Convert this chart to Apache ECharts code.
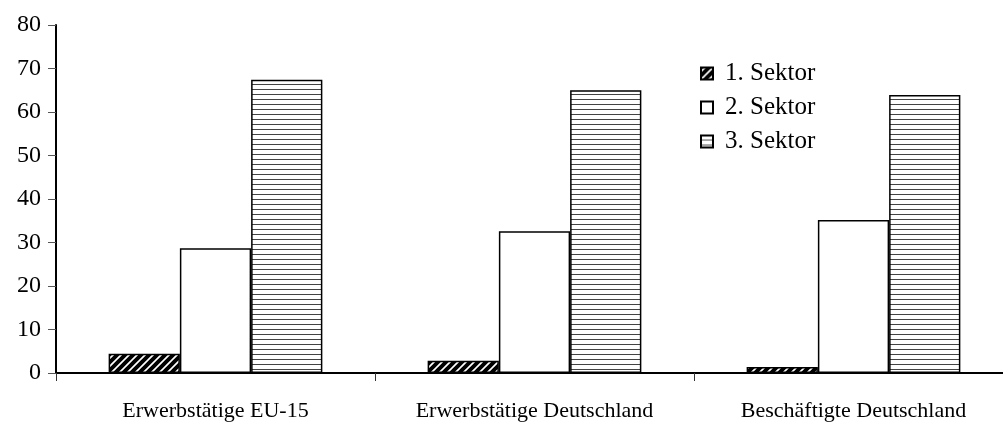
<!DOCTYPE html>
<html>
<head>
<meta charset="utf-8">
<script src="https://cdn.jsdelivr.net/npm/echarts@6/dist/echarts.min.js"></script>
<style>
    html, body { margin: 0; padding: 0; background: #fff; overflow: hidden; }
    #chart { width: 1013px; height: 424px; }
</style>
</head>
<body>
<div id="chart"></div>
<script>
// Data
var categories = ['Erwerbstätige EU-15', 'Erwerbstätige Deutschland', 'Beschäftigte Deutschland'];
var seriesNames = ['1. Sektor', '2. Sektor', '3. Sektor'];
var sektor1 = [4.4, 2.8, 1.4];
var sektor2 = [28.7, 32.6, 35.2];
var sektor3 = [67.4, 65.0, 63.9];
var yTicks = [0, 80, 10]; // min, max, interval

// Fill patterns
var makeDiagonal = function () {
    var c = document.createElement('canvas');
    c.width = 8; c.height = 8;
    var ctx = c.getContext('2d');
    ctx.fillStyle = '#fff';
    ctx.fillRect(0, 0, 8, 8);
    ctx.strokeStyle = '#000';
    ctx.lineWidth = 4;
    ctx.beginPath();
    ctx.moveTo(-2, 10); ctx.lineTo(10, -2);
    ctx.moveTo(-6, 6); ctx.lineTo(6, -6);
    ctx.moveTo(2, 14); ctx.lineTo(14, 2);
    ctx.stroke();
    return c;
};
var makeHorizontal = function () {
    var c = document.createElement('canvas');
    c.width = 4; c.height = 5;
    var ctx = c.getContext('2d');
    ctx.fillStyle = '#fff';
    ctx.fillRect(0, 0, 4, 5);
    ctx.fillStyle = '#444';
    ctx.fillRect(0, 4, 4, 1);
    return c;
};

var fills = [
    { image: makeDiagonal(), repeat: 'repeat' },
    '#ffffff',
    { image: makeHorizontal(), repeat: 'repeat' }
];
var values = [sektor1, sektor2, sektor3];

var series = values.map(function (v, i) {
    return {
        name: seriesNames[i],
        type: 'bar',
        data: v,
        barGap: '0%',
        barCategoryGap: '33%',
        itemStyle: {
            color: fills[i],
            borderColor: '#000',
            borderWidth: 1.5
        }
    };
});

var serif = '"Liberation Serif", "Times New Roman", serif';

var chart = echarts.init(document.getElementById('chart'));
chart.setOption({
    animation: false,
    textStyle: {
        fontFamily: serif
    },
    grid: {
        left: 56,
        right: 0,
        top: 25,
        bottom: 51,
        containLabel: false
    },
    legend: {
        orient: 'vertical',
        left: 700,
        top: 61,
        padding: 0,
        icon: 'rect',
        itemWidth: 12,
        itemHeight: 12,
        itemGap: 9,
        data: seriesNames,
        textStyle: {
            fontSize: 25,
            color: '#000',
            padding: [0, 0, 0, 7],
            fontFamily: serif
        }
    },
    xAxis: {
        type: 'category',
        data: categories,
        axisLine: { lineStyle: { color: '#000', width: 2 } },
        axisTick: { show: true, length: 8, lineStyle: { color: '#333' } },
        axisLabel: {
            color: '#000',
            fontSize: 22,
            margin: 27,
            fontFamily: serif
        }
    },
    yAxis: {
        type: 'value',
        min: yTicks[0],
        max: yTicks[1],
        interval: yTicks[2],
        axisLine: { show: true, lineStyle: { color: '#000', width: 2 } },
        axisTick: { show: true, length: 8, lineStyle: { color: '#555' } },
        splitLine: { show: false },
        axisLabel: {
            color: '#000',
            fontSize: 24,
            margin: 15,
            fontFamily: serif
        }
    },
    series: series
});
</script>
</body>
</html>
